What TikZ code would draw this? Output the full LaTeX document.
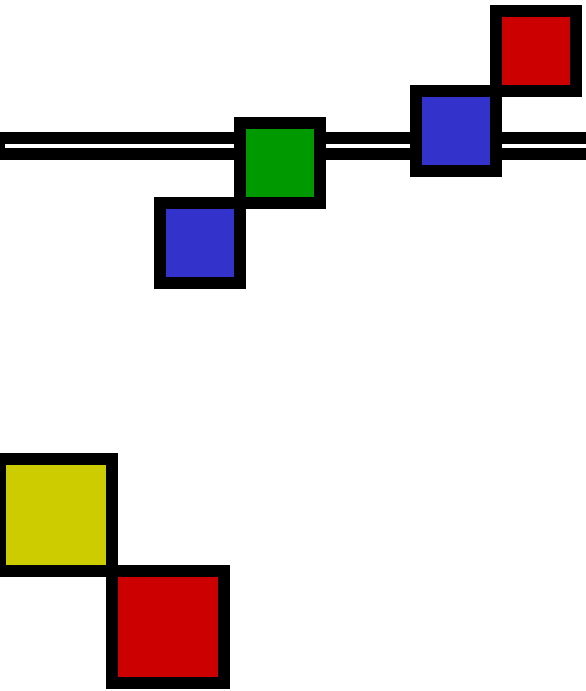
\documentclass[tikz,border=0pt]{standalone}
\usepackage{xcolor}
\usepackage{tikz}
\definecolor{tilered}{HTML}{CC0000}
\definecolor{tileblue}{HTML}{3333CC}
\definecolor{tilegreen}{HTML}{009900}
\definecolor{tileyellow}{HTML}{CCCC00}
\tikzset{
  tile/.style={draw=black, line width=12pt, inner sep=0pt, outer sep=0pt, minimum size=80pt},
  bigtile/.style={tile, minimum size=112pt},
  rail/.style={draw=black, line width=12pt, double=white, double distance=4pt, line cap=rect}
}

\begin{document}
\begin{tikzpicture}[x=1pt, y=-1pt]
  \useasboundingbox (0,0) rectangle (586,691);
  \clip (0,0) rectangle (586,691);

  % rail behind the tiles
  \coordinate (railL) at (7,145.5);
  \coordinate (railR) at (600,145.5);
  \draw[rail] (railL) -- (railR);

  % upper tiles
  \node[tile, fill=tileblue]  (blueA) at (200,243) {};
  \node[tile, fill=tilegreen] (green) at (280,163) {};
  \node[tile, fill=tileblue]  (blueB) at (456,131) {};
  \node[tile, fill=tilered]   (redA)  at (536,51)  {};

  % lower tiles
  \node[bigtile, fill=tileyellow] (yellow) at (56,515)  {};
  \node[bigtile, fill=tilered]    (redB)   at (168,627) {};
\end{tikzpicture}
\end{document}
